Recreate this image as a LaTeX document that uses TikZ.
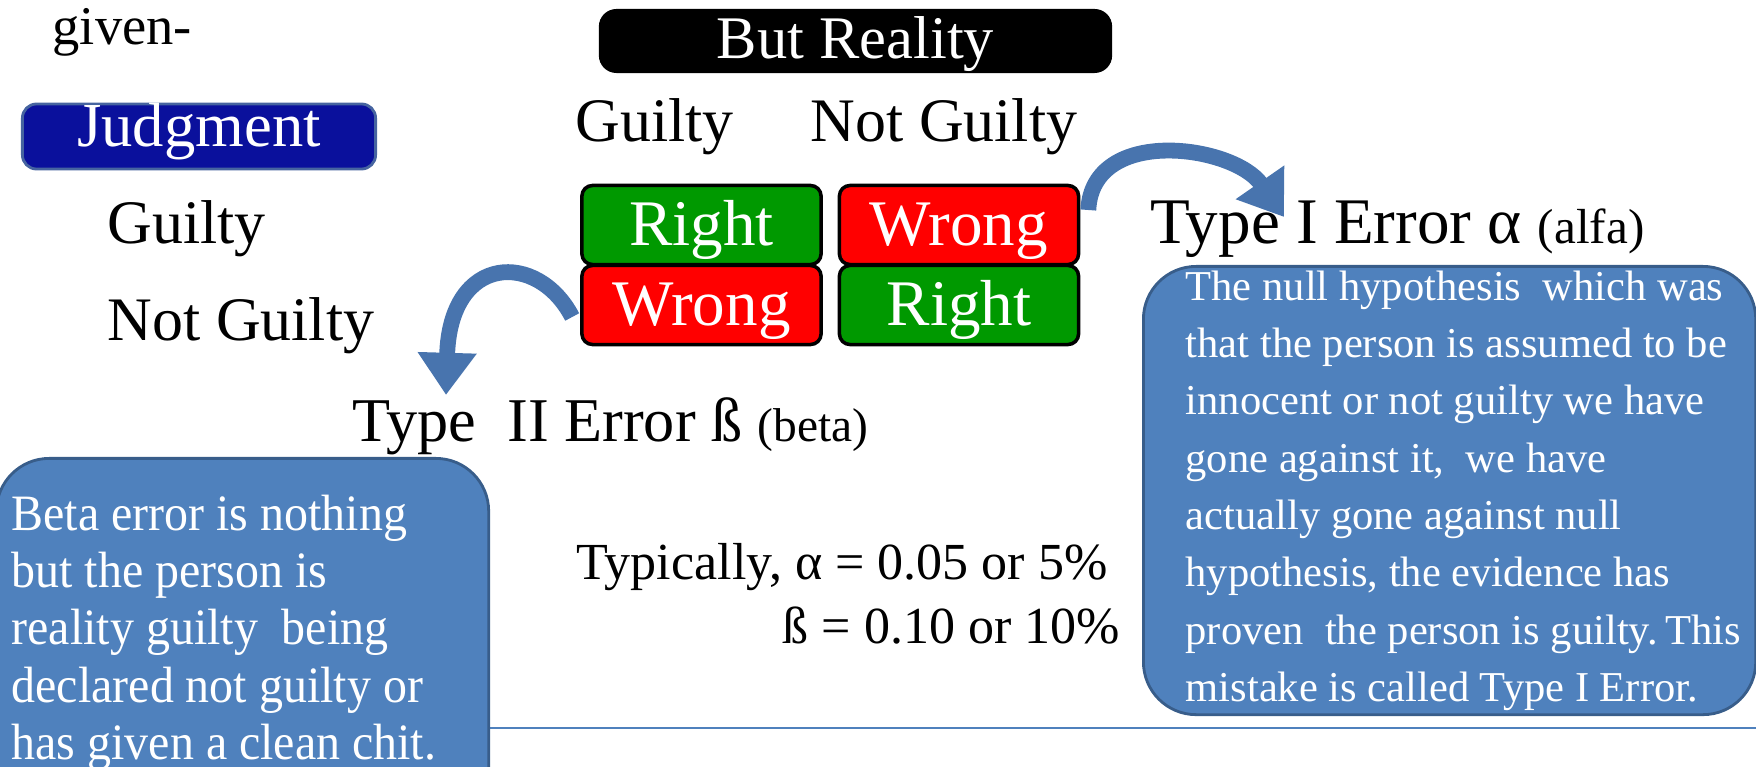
\documentclass[tikz,border=0pt]{standalone}
\usepackage{fontspec}
\setmainfont{Liberation Serif}
\newfontfamily\narrowserif[FakeStretch=0.94]{Liberation Serif}
\usetikzlibrary{arrows.meta}
\definecolor{judgeblue}{RGB}{10,16,156}
\definecolor{judgeedge}{RGB}{70,100,160}
\definecolor{okgreen}{RGB}{0,153,0}
\definecolor{badred}{RGB}{255,0,0}
\definecolor{notebox}{RGB}{79,129,189}
\definecolor{noteedge}{RGB}{56,93,138}
\definecolor{curvearrow}{RGB}{72,116,174}

\begin{document}
\begin{tikzpicture}[x=0.01cm, y=-0.01cm,
  every node/.style={inner sep=0pt},
  plain/.style={anchor=base west, font=\fontsize{17.6}{20}\selectfont},
  cell/.style={draw=black, line width=1pt, rounded corners=3pt, minimum width=2.39cm, minimum height=0.79cm,
    text=white, font=\fontsize{18.5}{20}\selectfont, text height=13pt, text depth=1.6pt},
  note/.style={anchor=north west, fill=notebox, draw=noteedge, line width=0.8pt, rounded corners=15pt},
  bent/.style={curvearrow, line width=4.5pt, -{Triangle[length=12pt,width=16pt]}}]
\clip (0,0) rectangle (1756,767);
\draw[notebox, line width=0.8pt] (0,728) -- (1756,728);

% explanation boxes
\node[note, minimum width=4.92cm, minimum height=4cm] (betabox) at (-5,457) {};
\node[note, minimum width=6.12cm, minimum height=4.48cm] (alfabox) at (1142,265) {};
\node[anchor=north west, align=left, text=white, font=\narrowserif\fontsize{14.5}{16.3}\selectfont] (betatext) at (11,494)
  {Beta error is nothing\\but the person is\\reality guilty\ \ being\\declared not guilty or\\has given a clean chit.};
\node[anchor=north west, align=left, text=white, font=\fontsize{12.1}{16.3}\selectfont] (alfatext) at (1185,270)
  {The null hypothesis\ \ which was\\that the person is assumed to be\\innocent or not guilty we have\\gone against it,\ \ we have\\actually gone against null\\hypothesis, the evidence has\\proven\ \ the person is guilty.\,This\\mistake is called Type I Error.};

% judgment side
\node[plain, font=\fontsize{15.5}{18}\selectfont] (given) at (52,45) {given-};
\node[fill=judgeblue, draw=judgeedge, line width=0.8pt, rounded corners=4pt, minimum width=3.53cm, minimum height=0.65cm,
  text=white, font=\fontsize{17.8}{20}\selectfont, text height=8.5pt, text depth=3pt] (judgment) at (199,136.5) {Judgment};
\node[plain] (judgeG) at (107,244) {Guilty};
\node[plain] (judgeNG) at (107,341) {Not Guilty};

% reality side
\node[fill=black, rounded corners=5pt, minimum width=5.13cm, minimum height=0.64cm, text=white,
  font=\fontsize{17.2}{20}\selectfont, text height=11.5pt, text depth=1.3pt] (reality) at (855.5,41) {But Reality};
\node[plain] (realG) at (575,142) {Guilty};
\node[plain] (realNG) at (810,142) {Not Guilty};

\node[cell, fill=okgreen] (rightTL) at (701.5,225) {Right};
\node[cell, fill=badred] (wrongTR) at (959,225) {Wrong};
\node[cell, fill=badred] (wrongBL) at (701.5,305) {Wrong};
\node[cell, fill=okgreen] (rightBR) at (959,305) {Right};

\node[plain, font=\fontsize{18.5}{20}\selectfont] (typeI) at (1150,244) {Type I Error α {\fontsize{14}{16}\selectfont (alfa)}};
\node[plain, font=\fontsize{17.7}{20}\selectfont] (typeII) at (352,442) {Type\ \ II Error ß {\fontsize{13.5}{16}\selectfont (beta)}};
\node[plain, font=\fontsize{14.8}{17}\selectfont] (typical) at (576,580) {Typically, α = 0.05 or 5\%};
\node[plain, font=\fontsize{14.8}{17}\selectfont] (typicalB) at (782,643) {ß = 0.10 or 10\%};

% curved arrows
\coordinate (alfaTip) at (1284,217);
\coordinate (betaTip) at (446,395);
\draw[bent] ([shift={(8,-15)}]wrongTR.east) .. controls +(4,-85) and +(-50,-72) .. (alfaTip);
\draw[bent] ([shift={(-8,12)}]wrongBL.west) .. controls +(-34,-66) and +(4,-142) .. (betaTip);
\end{tikzpicture}
\end{document}
